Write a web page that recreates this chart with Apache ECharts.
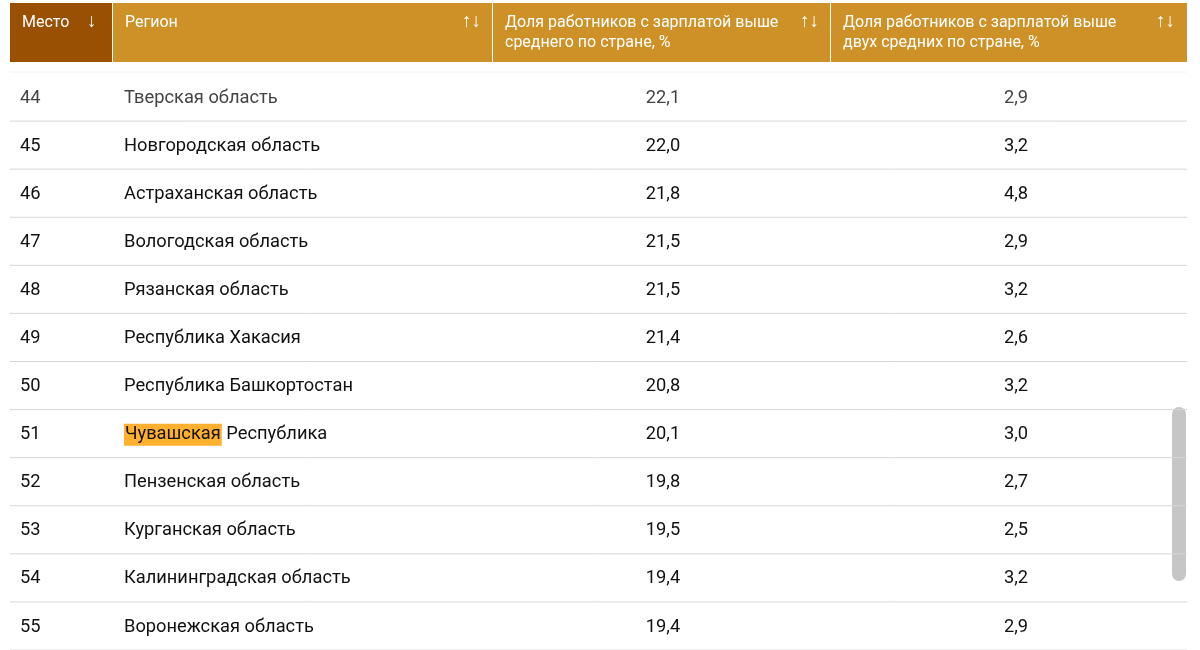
<!DOCTYPE html>
<html><head><meta charset="utf-8">
<script src="https://cdn.jsdelivr.net/npm/echarts@6/dist/echarts.min.js"></script>
<style>html,body{margin:0;padding:0;background:#fff}#c{width:1200px;height:650px}</style>
</head><body><div id="c"></div>
<script>
const headers = ['Место', 'Регион', 'Доля работников с зарплатой выше\nсреднего по стране, %', 'Доля работников с зарплатой выше\nдвух средних по стране, %'];
const ranks = ['44','45','46','47','48','49','50','51','52','53','54','55'];
const regions = ['Тверская область','Новгородская область','Астраханская область','Вологодская область','Рязанская область','Республика Хакасия','Республика Башкортостан','Чувашская Республика','Пензенская область','Курганская область','Калининградская область','Воронежская область'];
const aboveAvg = ['22,1','22,0','21,8','21,5','21,5','21,4','20,8','20,1','19,8','19,5','19,4','19,4'];
const aboveTwoAvg = ['2,9','3,2','4,8','2,9','3,2','2,6','3,2','3,0','2,7','2,5','3,2','2,9'];
const highlightWord = 'Чувашская';

const chart = echarts.init(document.getElementById('c'));
const font = 'Roboto, "Noto Sans", sans-serif';
const data = ranks.map((r,i)=>[i]);
const hdrStyle = {fill:'#fff', font:'16px '+font, lineHeight:20};
const colX = [10,113,493,831,1187];
const graphics = [];
const fills = ['#9A5003','#CE9127','#CE9127','#CE9127'];
for(let i=0;i<4;i++){
  graphics.push({type:'rect',shape:{x:colX[i],y:3,width:colX[i+1]-colX[i]-(i<3?1:0),height:59},style:{fill:fills[i]}});
  graphics.push({type:'text',x:colX[i]+12,y:13,style:Object.assign({text:headers[i]},hdrStyle)});
  graphics.push({type:'text',x:i==0?87:colX[i+1]-31,y:13,style:{text:i==0?'↓':'↑↓',fill:'#fff',font:'19px '+font}});
}
graphics.push({type:'rect',shape:{x:1172,y:407,width:14,height:174,r:7},style:{fill:'#c6c6c6'}});
graphics.push({type:'line',shape:{x1:10,y1:72,x2:1187,y2:72},style:{stroke:'#f2f2f2',lineWidth:1}});

chart.setOption({
  animation:false,
  grid:{left:0,right:0,top:73,height:582},
  xAxis:{type:'value',min:0,max:1200,show:false},
  yAxis:{type:'category',data:ranks,inverse:true,show:false},
  graphic:graphics,
  series:[{type:'custom',data:data,clip:false,renderItem:function(params,api){
    const i = api.value(0);
    const c = api.coord([0,i]);
    const h = api.size([0,1])[1];
    const y = c[1]+1;
    const col = i===0?'#444':'#111';
    const ts = {font:'18.3px '+font,fill:col,verticalAlign:'middle'};
    let reg = regions[i], rich = {};
    if(reg.indexOf(highlightWord)===0){
      reg = '{h|'+highlightWord+'}'+reg.slice(highlightWord.length);
      rich = {h:{backgroundColor:'#FFB02E',font:'18.3px '+font,fill:col,padding:[2,1,2,1]}};
    }
    const x = v=>api.coord([v,i])[0];
    return {type:'group',children:[
      {type:'line',shape:{x1:x(10),y1:c[1]+h/2,x2:x(1187),y2:c[1]+h/2},style:{stroke:'#d6d6d6',lineWidth:1}},
      {type:'text',style:Object.assign({text:ranks[i],x:x(20),y:y},ts)},
      {type:'text',style:Object.assign({text:reg,x:x(124),y:y,rich:rich},ts)},
      {type:'text',style:Object.assign({text:aboveAvg[i],x:x(663),y:y,align:'center'},ts)},
      {type:'text',style:Object.assign({text:aboveTwoAvg[i],x:x(1016),y:y,align:'center'},ts)}
    ]};
  }}]
});
</script></body></html>
